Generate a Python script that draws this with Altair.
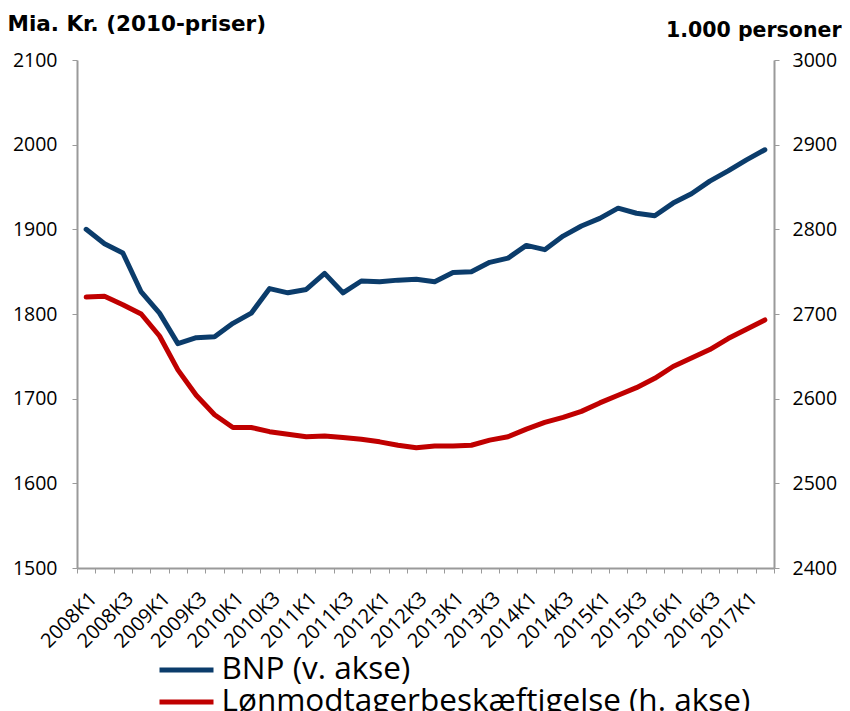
import altair as alt
import pandas as pd

quarters = ["2008K1","2008K2","2008K3","2008K4","2009K1","2009K2","2009K3","2009K4",
            "2010K1","2010K2","2010K3","2010K4","2011K1","2011K2","2011K3","2011K4",
            "2012K1","2012K2","2012K3","2012K4","2013K1","2013K2","2013K3","2013K4",
            "2014K1","2014K2","2014K3","2014K4","2015K1","2015K2","2015K3","2015K4",
            "2016K1","2016K2","2016K3","2016K4","2017K1","2017K2"]

bnp = [1900,1883,1872,1826,1801,1765,1772,1773,1789,1801,1830,1825,1829,1848,1825,1839,
       1838,1840,1841,1838,1849,1850,1861,1866,1881,1876,1892,1904,1913,1925,1919,1916,
       1931,1942,1957,1969,1982,1994]

emp = [2720,2721,2711,2700,2674,2634,2604,2581,2566,2566,2561,2558,2555,2556,2554,2552,
       2549,2545,2542,2544,2544,2545,2551,2555,2564,2572,2578,2585,2595,2604,2613,2624,
       2638,2648,2658,2671,2682,2693]

s_bnp = "BNP (v. akse)"
s_emp = "Lønmodtagerbeskæftigelse (h. akse)"
series = [s_bnp, s_emp]
colors = ["#0B3C6B", "#C00000"]

df = pd.DataFrame({
    "q": quarters * 2,
    "serie": [s_bnp] * len(quarters) + [s_emp] * len(quarters),
    "v": bnp + emp,
})

FONT = "Open Sans"
TFONT = "DejaVu Sans"
GRAY = "#9A9A9A"

x = alt.X("q:N", sort=quarters, bandPosition=0.5,
          scale=alt.Scale(type="band", paddingInner=0, paddingOuter=0),
          axis=alt.Axis(title=None, labelAngle=-45, labelFontSize=20, labelFont=FONT,
                        labelColor="black", tickBand="extent", tickSize=5,
                        labelAlign="right", labelBaseline="top",
                        tickColor=GRAY, domainColor=GRAY, domainWidth=2, labelPadding=15,
                        labelExpr="(indexof(datum.label,'K1')>=0 || indexof(datum.label,'K3')>=0) ? datum.label : ''"))

color = alt.Color("serie:N", scale=alt.Scale(domain=series, range=colors),
                  sort=series,
                  legend=alt.Legend(title=None, orient="none", legendX=93.5, legendY=594,
                                    labelFontSize=31.5, labelFont=FONT, labelColor="black",
                                    symbolType="M-2,0H2", symbolSize=729, symbolStrokeWidth=5,
                                    labelLimit=0, labelOffset=19, rowPadding=0, padding=0))

left = alt.Chart(df).transform_filter(alt.datum.serie == s_bnp).mark_line(
    strokeWidth=5, strokeJoin="round", strokeCap="round").encode(
    x=x,
    y=alt.Y("v:Q", scale=alt.Scale(domain=[1500, 2100], nice=False, zero=False),
            axis=alt.Axis(title="Mia. Kr. (2010-priser)", titleAngle=0, titleAlign="left",
                          titleBaseline="alphabetic", titleX=-70, titleY=-30,
                          titleFontSize=21.5, titleFont=TFONT, titleFontWeight="bold",
                          values=[1500,1600,1700,1800,1900,2000,2100], format="d",
                          labelFontSize=19.5, labelFont=FONT, labelColor="black",
                          tickSize=5, tickColor=GRAY, domainColor=GRAY, domainWidth=2,
                          labelPadding=15, grid=False)),
    color=color,
)

right = alt.Chart(df).transform_filter(alt.datum.serie == s_emp).mark_line(
    strokeWidth=5, strokeJoin="round", strokeCap="round").encode(
    x=x,
    y=alt.Y("v:Q", scale=alt.Scale(domain=[2400, 3000], nice=False, zero=False),
            axis=alt.Axis(orient="right", title="1.000 personer", titleAngle=0,
                          titleAlign="right", titleBaseline="alphabetic", titleX=67, titleY=-24,
                          titleFontSize=20.5, titleFont=TFONT, titleFontWeight="bold",
                          values=[2400,2500,2600,2700,2800,2900,3000], format="d",
                          labelFontSize=19.5, labelFont=FONT, labelColor="black",
                          tickSize=5, tickColor=GRAY, domainColor=GRAY, domainWidth=2,
                          labelPadding=13, grid=False)),
    color=color,
)

chart = alt.layer(left, right).resolve_scale(y="independent").properties(
    width=697, height=508,
    autosize=alt.AutoSizeParams(type="none"),
    padding={"left": 69, "top": 52, "right": 68, "bottom": 143},
).configure_view(stroke=None).configure_axis(labelFont=FONT, titleColor="black")

chart.save("out.html", embed_options={"renderer": "svg", "actions": False})
